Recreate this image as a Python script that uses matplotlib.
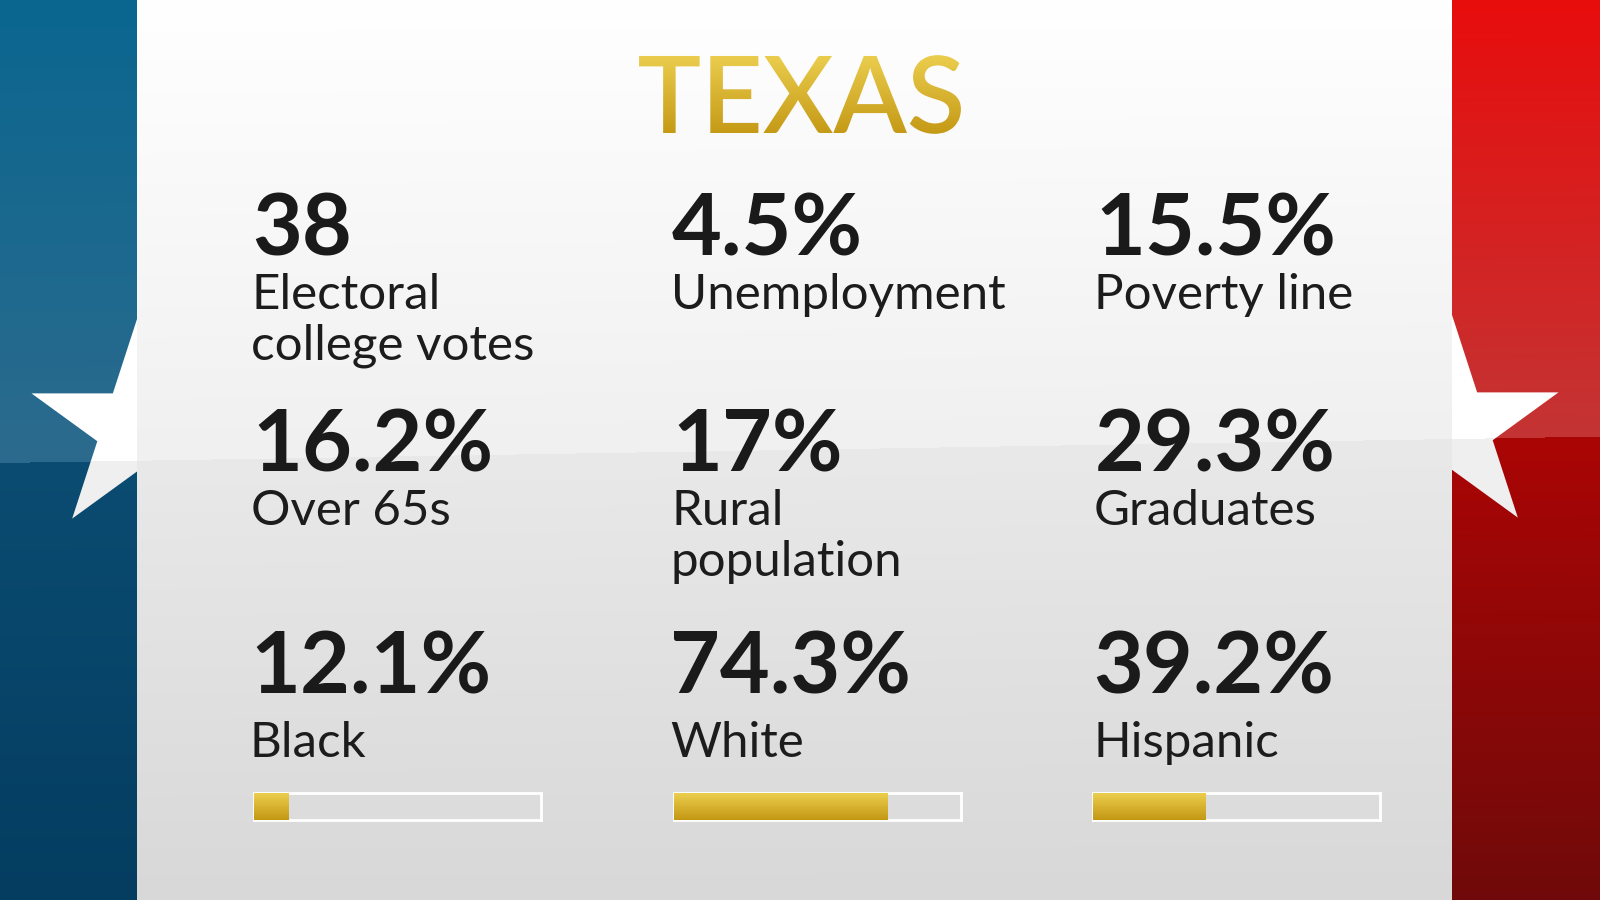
import numpy as np
import matplotlib
matplotlib.use("Agg")
from matplotlib import pyplot as plt
from matplotlib.colors import to_rgb
from matplotlib.patches import Polygon, PathPatch
from matplotlib.textpath import TextPath
from matplotlib.font_manager import FontProperties
from matplotlib.transforms import Affine2D

# data
state = "TEXAS"
stat_values = ["38", "4.5%", "15.5%", "16.2%", "17%", "29.3%"]
stat_labels = ["Electoral\ncollege votes", "Unemployment", "Poverty line",
               "Over 65s", "Rural\npopulation", "Graduates"]
groups = ["Black", "White", "Hispanic"]
group_pct = [12.1, 74.3, 39.2]

W, H = 1600, 900
FONT = "Lato"
cols = [252, 672, 1095]
bar_x = [254, 674, 1093]
panel_x0, panel_x1 = 137, 1452


def split_y(x):
    # faint diagonal "gloss" line across the whole graphic
    return 463 - 0.0165 * x


def glossy(x0, x1, top, mid_a, mid_b, bottom):
    yy, xx = np.mgrid[0:H, x0:x1] + 0.5
    s = split_y(xx)
    ta = np.clip(yy / s, 0, 1)[..., None]
    tb = np.clip((yy - s) / (H - s), 0, 1)[..., None]
    top, mid_a, mid_b, bottom = [np.array(to_rgb(c)) for c in (top, mid_a, mid_b, bottom)]
    a = top + (mid_a - top) * ta
    b = mid_b + (bottom - mid_b) * tb
    return np.where((yy < s)[..., None], a, b)


def star(cx, cy, r_out):
    ang = np.pi / 2 + np.arange(10) * np.pi / 5
    r = np.where(np.arange(10) % 2 == 0, r_out, r_out * 0.382)
    return np.column_stack([cx + r * np.cos(ang), cy - r * np.sin(ang)])


fig = plt.figure(figsize=(16, 9), dpi=100)
ax = fig.add_axes([0, 0, 1, 1])
ax.axis("off")

# side bands
blue = glossy(0, 800, "#0a6690", "#2c6b8d", "#0b4c72", "#043d60")
red = glossy(800, W, "#e80d0d", "#c43434", "#ab0505", "#700a0a")
ax.imshow(np.concatenate([blue, red], axis=1), extent=[0, W, H, 0],
          aspect="auto", zorder=0)

# stars, half hidden under the middle panel
star_img = glossy(0, W, "#ffffff", "#ffffff", "#efefef", "#efefef")
for cx, cy in [(138, 428), (1452, 427)]:
    p = Polygon(star(cx, cy, 112), closed=True, facecolor="none", edgecolor="none")
    ax.add_patch(p)
    im = ax.imshow(star_img, extent=[0, W, H, 0], aspect="auto", zorder=1)
    im.set_clip_path(p)

# middle panel
mid = glossy(panel_x0, panel_x1, "#ffffff", "#f0f0f0", "#e9e9e9", "#d8d8d8")
ax.imshow(mid, extent=[panel_x0, panel_x1, H, 0], aspect="auto", zorder=2)

# gold title
gold = np.linspace(0, 1, 100)[:, None, None]
gold_img = np.array(to_rgb("#ecce4e")) + (np.array(to_rgb("#c39814")) - np.array(to_rgb("#ecce4e"))) * gold
fp = FontProperties(family=FONT, weight="semibold")
tp = TextPath((0, 0), state, size=107, prop=fp)
bb = tp.get_extents()
tr = Affine2D().scale(1, -1).translate(W / 2 - (bb.x0 + bb.width / 2), 133) + ax.transData
title_patch = PathPatch(tp, transform=tr, facecolor="none", edgecolor="none")
ax.add_patch(title_patch)
im = ax.imshow(gold_img, extent=[560, 1040, 136, 54], aspect="auto", zorder=4)
im.set_clip_path(title_patch)

# stat blocks
num_base = [255, 471]
for i, (v, lab) in enumerate(zip(stat_values, stat_labels)):
    x = cols[i % 3]
    y = num_base[i // 3]
    ax.text(x, y, v, fontsize=62, fontfamily=FONT, fontweight="bold",
            color="#1a1a1a", va="baseline", zorder=5)
    for k, line in enumerate(lab.split("\n")):
        ax.text(x - 1, y + 54 + 51 * k, line, fontsize=35.5, fontfamily=FONT,
                color="#1c1c1c", va="baseline", zorder=5)

for x, bx, g, pct in zip(cols, bar_x, groups, group_pct):
    ax.text(x - 2, 694, f"{pct}%", fontsize=62, fontfamily=FONT, fontweight="bold",
            color="#1a1a1a", va="baseline", zorder=5)
    ax.text(x - 2, 757, g, fontsize=35.5, fontfamily=FONT,
            color="#1c1c1c", va="baseline", zorder=5)

    # progress bar
    by, bw, bh = 793, 287, 27
    bax = fig.add_axes([bx / W, 1 - (by + bh) / H, bw / W, bh / H])
    bax.set_facecolor("#dcdcdc")
    for sp in bax.spines.values():
        sp.set_color("white")
        sp.set_linewidth(2)
    bax.set_xticks([])
    bax.set_yticks([])
    bar = bax.barh(0.5, pct, height=1, left=0, color="none")[0]
    bim = bax.imshow(gold_img, extent=[0, 100, 0, 1], aspect="auto", zorder=3)
    bim.set_clip_path(bar)
    bax.set_xlim(0, 100)
    bax.set_ylim(0, 1)

ax.set_xlim(0, W)
ax.set_ylim(H, 0)

fig.savefig("out.png", dpi=100)
